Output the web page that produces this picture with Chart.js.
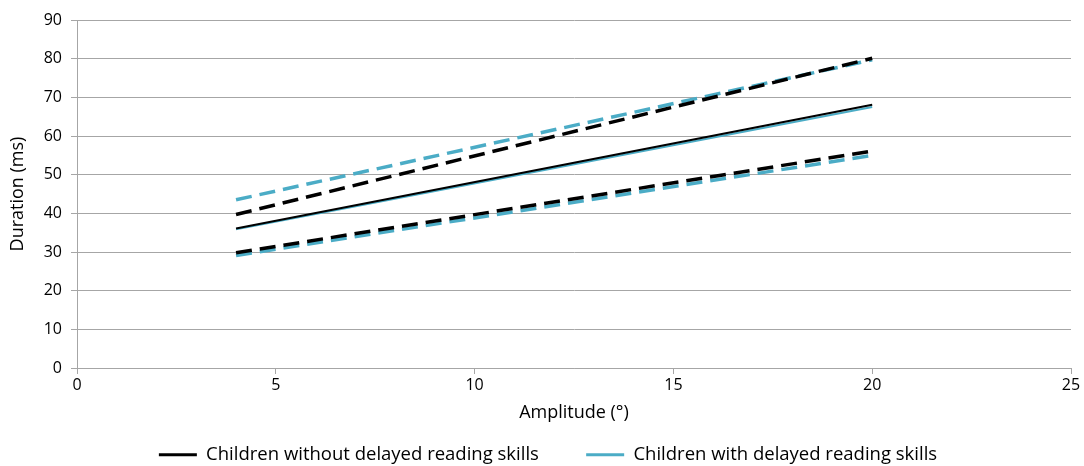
<!DOCTYPE html>
<html><head><meta charset="utf-8">
<script src="https://cdn.jsdelivr.net/npm/chart.js@4/dist/chart.umd.min.js"></script>
<style>html,body{margin:0;padding:0;background:#fff;}#wrap{width:1084px;height:466px;}</style>
</head><body><div id="wrap"><canvas id="c" width="1084" height="466"></canvas></div>
<script>
const amplitudes = [4, 20];
const withoutMean = [36.1, 68.1];
const withMean = [35.9, 67.5];
const withoutUpper = [39.7, 80.1];
const withUpper = [43.5, 79.7];
const withoutLower = [29.8, 56.1];
const withLower = [29.1, 55.0];
const xTicks = [0, 5, 10, 15, 20, 25];
const yTicks = [0, 10, 20, 30, 40, 50, 60, 70, 80, 90];
const seriesNames = ['Children without delayed reading skills', 'Children with delayed reading skills'];

const BLACK = '#000000', CYAN = '#4bacc6';
function pts(vals){ return amplitudes.map((x,i)=>({x:x,y:vals[i]})); }
function ds(label, vals, color, dashed, width){
  return {label:label, data:pts(vals), borderColor:color, backgroundColor:color,
    borderWidth:width, borderDash: dashed ? [16,8] : [], showLine:true, pointRadius:0, fill:false, tension:0};
}
const FONT = '"Open Sans", sans-serif';
new Chart(document.getElementById('c'), {
  type:'scatter',
  data:{datasets:[
    ds(seriesNames[0], withoutMean, BLACK, false, 2),
    ds(seriesNames[1], withMean, CYAN, false, 2),
    ds('upper ' + seriesNames[0], withoutUpper, BLACK, true, 3.5),
    ds('upper ' + seriesNames[1], withUpper, CYAN, true, 3.5),
    ds('lower ' + seriesNames[0], withoutLower, BLACK, true, 3.5),
    ds('lower ' + seriesNames[1], withLower, CYAN, true, 3.5)
  ]},
  options:{
    responsive:false, animation:false, devicePixelRatio:1,
    layout:{padding:{left:25,right:13,top:20,bottom:-8}},
    plugins:{
      tooltip:{enabled:false},
      legend:{position:'bottom', labels:{
        boxWidth:38, boxHeight:3, padding:0, color:'#000',
        font:{family:FONT,size:18.5},
        generateLabels:(chart)=>{
          const d = chart.data.datasets;
          return [
            {text:d[0].label, fillStyle:d[0].borderColor, strokeStyle:d[0].borderColor, lineWidth:0, datasetIndex:0},
            {text:'', fillStyle:'rgba(0,0,0,0)', strokeStyle:'rgba(0,0,0,0)', lineWidth:0},
            {text:d[1].label, fillStyle:d[1].borderColor, strokeStyle:d[1].borderColor, lineWidth:0, datasetIndex:1}
          ];
        }
      }}
    },
    scales:{
      x:{type:'linear', min:0, max:25,
        afterBuildTicks:(s)=>{s.ticks = xTicks.map(v=>({value:v}));},
        afterFit:(s)=>{s.height = 77.5;},
        grid:{display:true, drawOnChartArea:false, drawTicks:true, tickLength:6, color:'#a6a6a6'},
        border:{display:true, color:'#a6a6a6', width:1},
        ticks:{color:'#000', font:{family:FONT,size:16}, padding:2},
        title:{display:true, text:'Amplitude (°)', color:'#000', font:{family:FONT,size:18}, padding:{top:22,bottom:22}}
      },
      y:{type:'linear', min:0, max:90,
        afterBuildTicks:(s)=>{s.ticks = yTicks.map(v=>({value:v}));},
        afterFit:(s)=>{s.width = 52;},
        grid:{color:'#a6a6a6', lineWidth:1, drawTicks:true, tickLength:6},
        border:{display:true, color:'#a6a6a6', width:1},
        ticks:{color:'#000', font:{family:FONT,size:16}, padding:9},
        title:{display:true, text:'Duration (ms)', color:'#000', font:{family:FONT,size:18}, padding:{top:-17.5,bottom:-17.5}}
      }
    }
  }
});
</script></body></html>
